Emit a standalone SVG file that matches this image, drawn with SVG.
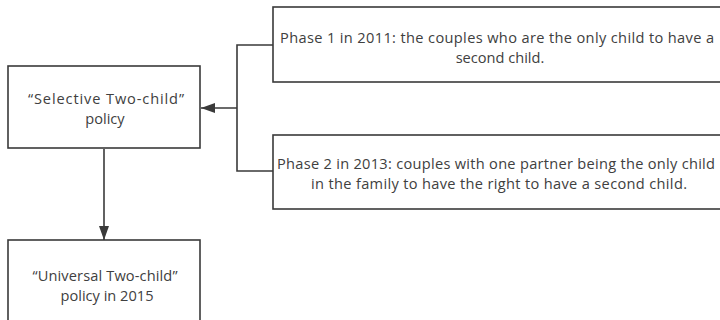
<svg xmlns="http://www.w3.org/2000/svg" width="720" height="320" viewBox="0 0 720 320">
  <style>
    .box { fill: #ffffff; stroke: #3a3a3a; stroke-width: 1.6; }
    .label { font-family: "Open Sans", "Noto Sans", "DejaVu Sans", sans-serif; font-size: 14.6px; fill: #404040; text-anchor: middle; }
    .wire { fill: none; stroke: #3a3a3a; stroke-width: 1.6; }
  </style>
  <defs>
    <marker id="arrowWide" viewBox="0 0 14 10" refX="14" refY="5" markerWidth="14" markerHeight="10" markerUnits="userSpaceOnUse" orient="auto">
      <path d="M0,0 L14,5 L0,10 Z" fill="#3a3a3a"/>
    </marker>
  </defs>
  <rect width="720" height="320" fill="#ffffff"/>

  <!-- connectors -->
  <g id="connectors">
    <!-- two phases merge into the selective policy -->
    <path class="wire" d="M273,45 H237 V171 H273"/>
    <path class="wire" d="M237,108 H201" marker-end="url(#arrowWide)"/>
    <!-- selective policy leads to the universal policy -->
    <path class="wire" d="M104,149 V240" marker-end="url(#arrowWide)"/>
  </g>

  <g id="selective-policy">
    <rect class="box" x="8" y="66" width="192" height="82"/>
    <text class="label" x="106" y="104" textLength="156" lengthAdjust="spacing">“Selective Two-child”</text>
    <text class="label" x="105" y="124">policy</text>
  </g>

  <g id="phase-1">
    <rect class="box" x="273" y="7" width="460" height="75"/>
    <text class="label" x="497" y="43" textLength="434" lengthAdjust="spacing">Phase 1 in 2011: the couples who are the only child to have a</text>
    <text class="label" x="500" y="63">second child.</text>
  </g>

  <g id="phase-2">
    <rect class="box" x="273" y="135" width="460" height="74"/>
    <text class="label" x="496" y="169" textLength="438" lengthAdjust="spacing">Phase 2 in 2013: couples with one partner being the only child</text>
    <text class="label" x="499" y="189" textLength="376" lengthAdjust="spacing">in the family to have the right to have a second child.</text>
  </g>

  <g id="universal-policy">
    <rect class="box" x="8" y="240" width="192" height="100"/>
    <text class="label" x="105" y="281" textLength="145" lengthAdjust="spacing">“Universal Two-child”</text>
    <text class="label" x="107" y="301">policy in 2015</text>
  </g>
</svg>
